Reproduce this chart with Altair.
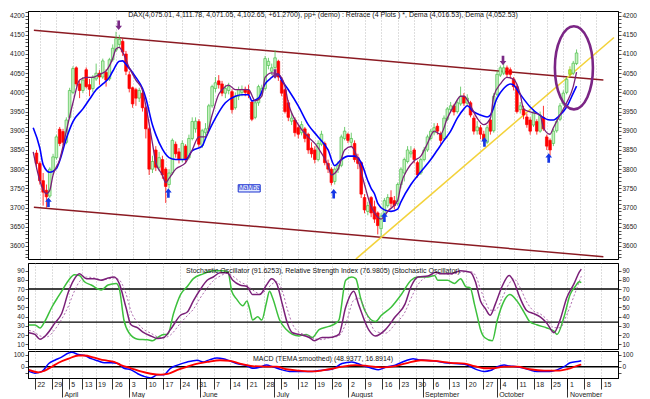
import altair as alt
import pandas as pd

# ---------------- DATA ----------------
# Daily candles, session 0 = Fri 19 Mar 2004 ... session 163 = Fri 5 Nov 2004 (trading days only)
opens = [
    3842,
    3815, 3770, 3745, 3730, 3795,
    3830, 3904, 3898, 3870, 3935,
    4000, 4064, 4022, 4005,
    4059, 4020, 4010, 4035,
    4050, 4040, 4052, 4035, 4085,
    4110, 4125, 4133, 4100, 4046,
    4012, 4007, 3985, 3998, 3960,
    3905, 3800, 3850, 3805, 3825,
    3800, 3760, 3790, 3865, 3845,
    3825, 3860, 3830, 3880, 3905,
    3924, 3862, 3895, 3905, 3965,
    4010, 4030, 4022, 3998, 4005,
    4002, 3960, 3990, 4000, 4008,
    4005, 3975, 3935, 3973, 4000,
    4010, 4070, 4055, 4065, 4081,
    4032, 4007, 3973, 3925, 3928,
    3908, 3895, 3905, 3891, 3855,
    3850, 3825, 3865, 3867, 3815,
    3800, 3768, 3800, 3810, 3880,
    3891, 3870, 3867, 3830, 3817,
    3726, 3690, 3726, 3702, 3686,
    3645, 3680, 3705, 3726, 3718,
    3710, 3760, 3790, 3820, 3840,
    3850, 3817, 3790, 3825, 3850,
    3880, 3895, 3912, 3891, 3880,
    3930, 3955, 3965, 3950, 3970,
    3990, 3972, 3973, 3933, 3900,
    3908, 3891, 3870, 3928, 3900,
    3995, 4045, 4050, 4064, 4059,
    4035, 4015, 3955, 3957, 3936,
    3928, 3915, 3924, 3899, 3935,
    3884, 3875, 3867, 3900, 3930,
    3970, 4000, 4047, 4050, 4075.01,
]
highs = [
    3850,
    3820, 3790, 3760, 3805, 3840,
    3890, 3910, 3905, 3935, 4012,
    4068, 4068, 4030, 4040,
    4065, 4035, 4045, 4075,
    4058, 4088, 4060, 4090, 4125,
    4158, 4150, 4140, 4108, 4055,
    4015, 4012, 4012, 4005, 3965,
    3910, 3835, 3860, 3845, 3835,
    3805, 3800, 3880, 3872, 3855,
    3875, 3865, 3890, 3935, 3935,
    3930, 3905, 3920, 3970, 4020,
    4040, 4045, 4030, 4020, 4025,
    4008, 4000, 4015, 4018, 4015,
    4020, 3980, 3980, 4020, 4020,
    4095, 4090, 4075, 4110, 4085,
    4040, 4010, 3980, 3950, 3935,
    3915, 3925, 3910, 3895, 3870,
    3860, 3875, 3900, 3872, 3825,
    3805, 3805, 3820, 3890, 3910,
    3895, 3895, 3875, 3840, 3820,
    3735, 3715, 3730, 3718, 3690,
    3685, 3725, 3735, 3745, 3730,
    3765, 3805, 3830, 3860, 3860,
    3855, 3822, 3830, 3858, 3890,
    3905, 3920, 3920, 3898, 3940,
    3962, 3975, 3970, 3980, 4015,
    3998, 3995, 3978, 3940, 3925,
    3915, 3900, 3915, 3935, 3998,
    4055, 4070, 4078, 4070, 4065,
    4040, 4020, 3975, 3965, 3945,
    3935, 3955, 3930, 3950, 3965,
    3890, 3880, 3905, 3935, 3972,
    4005, 4040, 4068, 4082, 4111.78,
]
lows = [
    3800,
    3760, 3705, 3700, 3725, 3785,
    3825, 3860, 3862, 3865, 3930,
    3995, 4015, 3985, 3998,
    4010, 3990, 4000, 4030,
    4020, 4035, 4015, 4030, 4080,
    4105, 4115, 4095, 4045, 4000,
    3960, 3965, 3975, 3950, 3880,
    3785, 3790, 3795, 3795, 3775,
    3712, 3750, 3785, 3830, 3815,
    3818, 3815, 3825, 3875, 3895,
    3858, 3855, 3880, 3900, 3960,
    4000, 4010, 3990, 3985, 3995,
    3945, 3955, 3980, 3990, 3990,
    3985, 3925, 3930, 3965, 3990,
    4005, 4060, 4045, 4060, 4030,
    3990, 3945, 3925, 3915, 3885,
    3880, 3888, 3870, 3840, 3830,
    3815, 3820, 3860, 3810, 3790,
    3758, 3760, 3790, 3805, 3875,
    3868, 3860, 3818, 3800, 3725,
    3685, 3680, 3675, 3660, 3630,
    3625, 3675, 3700, 3700, 3695,
    3705, 3750, 3768, 3815, 3830,
    3815, 3778, 3785, 3820, 3845,
    3875, 3888, 3890, 3865, 3875,
    3925, 3948, 3940, 3945, 3965,
    3965, 3965, 3935, 3890, 3890,
    3878, 3865, 3865, 3890, 3895,
    3990, 4040, 4045, 4040, 4035,
    4005, 3945, 3945, 3930, 3908,
    3890, 3910, 3890, 3895, 3900,
    3850, 3835, 3860, 3895, 3925,
    3965, 3995, 4040, 4045, 4071.05,
]
closes = [
    3815,
    3770, 3740, 3728, 3800, 3832,
    3884, 3867, 3870, 3928, 4005,
    4062, 4022, 4005, 4032,
    4015, 4008, 4040, 4050,
    4040, 4082, 4032, 4085, 4115,
    4140, 4138, 4105, 4055, 4010,
    3970, 3985, 4005, 3960, 3905,
    3800, 3820, 3805, 3830, 3785,
    3755, 3790, 3875, 3840, 3825,
    3867, 3825, 3880, 3924, 3925,
    3865, 3900, 3905, 3965, 4015,
    4025, 4020, 3998, 4010, 4015,
    3955, 3990, 4007, 4008, 4000,
    3995, 3930, 3973, 4015, 4010,
    4088, 4081, 4064, 4090, 4040,
    3998, 3950, 3935, 3933, 3895,
    3891, 3916, 3880, 3850, 3840,
    3825, 3867, 3891, 3817, 3800,
    3765, 3800, 3809, 3884, 3899,
    3875, 3880, 3825, 3815, 3735,
    3694, 3705, 3686, 3670, 3653,
    3678, 3718, 3726, 3711, 3705,
    3760, 3800, 3825, 3850, 3845,
    3825, 3785, 3825, 3850, 3884,
    3899, 3908, 3899, 3875, 3933,
    3957, 3965, 3949, 3973, 3990,
    3972, 3985, 3941, 3899, 3910,
    3891, 3875, 3908, 3899, 3990,
    4047, 4064, 4064, 4047, 4047,
    4015, 3950, 3965, 3941, 3916,
    3899, 3949, 3899, 3941, 3905,
    3860, 3850, 3899, 3924, 3965,
    3998, 4034, 4059, 4076, 4102.65,
]
highlight_sessions = [161]

# Dema lines (session, value)
dema_slow_session = [-1, 1, 2, 4, 6, 7, 9, 11, 14, 16, 18, 20, 22, 23, 25, 26, 27, 30, 32, 33,
                     35, 36, 38, 40, 42, 45, 47, 50, 51, 54, 57, 60, 62, 64, 65, 67, 69, 71, 72, 73,
                     74, 76, 79, 82, 85, 88, 90, 92, 94, 96, 98, 100, 101, 102, 103, 105, 107, 109, 110, 113,
                     116, 119, 121, 123, 125, 127, 129, 130, 132, 134, 136, 137, 139, 141, 143, 144, 146, 149, 152, 155,
                     156, 158, 160, 162, 163]
dema_slow_value = [3908, 3855, 3812, 3792, 3802, 3822, 3880, 3924, 3957, 3982, 4007, 4022, 4039, 4055, 4081, 4082, 4073, 4039, 4010, 3985,
                   3915, 3890, 3852, 3830, 3825, 3825, 3848, 3860, 3880, 3933, 3973, 3990, 3994, 3994, 3978, 3985, 4022, 4039, 4045, 4047,
                   4032, 4007, 3965, 3916, 3884, 3850, 3809, 3825, 3834, 3834, 3817, 3770, 3750, 3736, 3711, 3694, 3690, 3696, 3715, 3760,
                   3793, 3825, 3850, 3875, 3899, 3933, 3957, 3965, 3949, 3941, 3936, 3941, 3985, 4010, 4022, 4019, 3995, 3962, 3940, 3928,
                   3928, 3941, 3962, 3998, 4016.53]
dema_fast_session = [-1, 1, 3, 4, 5, 7, 9, 11, 13, 15, 17, 19, 21, 23, 24, 25, 26, 28, 30, 32,
                     33, 35, 36, 38, 39, 40, 42, 45, 47, 49, 51, 53, 55, 56, 58, 60, 63, 64, 66, 68,
                     69, 71, 73, 75, 76, 79, 82, 84, 86, 88, 89, 91, 93, 95, 97, 99, 101, 102, 104, 105,
                     106, 109, 110, 112, 114, 116, 118, 120, 122, 124, 126, 128, 129, 131, 133, 135, 137, 138, 140, 142,
                     144, 146, 147, 149, 152, 153, 155, 156, 158, 160, 162, 163]
dema_fast_value = [3845, 3770, 3736, 3745, 3785, 3825, 3899, 3973, 4032, 4039, 4039, 4047, 4056, 4088, 4113, 4117, 4105, 4064, 4032, 4005,
                   3965, 3867, 3817, 3785, 3765, 3776, 3800, 3817, 3850, 3884, 3884, 3941, 3995, 4007, 4019, 4007, 4007, 4007, 3978, 3990,
                   4039, 4051, 4047, 4015, 3973, 3916, 3884, 3867, 3842, 3809, 3785, 3800, 3850, 3859, 3825, 3760, 3702, 3686, 3670, 3678,
                   3690, 3718, 3760, 3800, 3822, 3834, 3867, 3899, 3891, 3933, 3965, 3990, 3990, 3965, 3933, 3916, 3933, 3990, 4022, 4039,
                   4034, 3995, 3957, 3949, 3941, 3908, 3891, 3908, 3941, 3973, 4015, 4052.53]

# Trend lines (session, value)
channel_top_session = [-0.8, 171.1]
channel_top_value = [4162, 4032]
channel_bottom_session = [-0.8, 171.1]
channel_bottom_value = [3701, 3572]
support_session = [96.4, 174.3]
support_value = [3566, 4143]

# Signal arrows, circled area, label
buy_session = [3.6, 39.8, 89.7, 105.0, 135.2, 154.6]
buy_value = [3714, 3738, 3736, 3675, 3871, 3829]
sell_session = [24.8, 72.0, 140.8]
sell_value = [4175, 4048, 4083]
circle_session = [162.2]
circle_value = [4064]
note_session = [64.2]
note_value = [3750]
note_text = ["MaMba"]

# Stochastic / RSI panel
rsi_session = [-0.8, 1.0, 2.5, 3.9, 6.0, 8.0, 9.5, 11.0, 12.7, 14.2,
               15.7, 17.7, 20.7, 22.7, 25.1, 26.0, 27.4, 28.9, 31.5, 34.5,
               35.9, 37.4, 39.2, 40.4, 42.1, 44.2, 46.2, 48.0, 50.9, 53.9,
               56.8, 58.3, 59.4, 60.9, 62.7, 63.9, 64.7, 65.6, 67.1, 68.3,
               69.7, 70.6, 71.5, 73.6, 75.6, 77.4, 79.4, 81.5, 83.3, 85.3,
               88.2, 90.3, 91.2, 93.2, 95.0, 96.2, 97.6, 99.1, 102.0, 103.8,
               106.7, 109.7, 112.6, 114.7, 117.6, 119.6, 120.5, 123.4, 125.5, 127.3,
               128.8, 130.2, 131.4, 132.3, 133.2, 134.4, 136.7, 138.2, 140.2, 141.9,
               144.0, 146.1, 147.8, 149.9, 152.9, 155.0, 155.9, 158.0, 159.8, 161.3,
               162.5, 163.1]
rsi_value = [31, 31, 27.7, 34.6, 50.2, 62.3, 71, 79.6, 85.5, 84.8,
             77.9, 74.4, 69, 74.4, 76.1, 71, 36.3, 22.5, 15.5, 14.8,
             13.8, 17.3, 20.7, 20.7, 43.2, 64, 72.7, 81.3, 86.5, 90,
             90, 88.3, 67.5, 58.8, 51.9, 57.1, 48.4, 36.3, 39.8, 36.3,
             55.4, 67.5, 60.6, 36.3, 25.9, 20.7, 19, 20.7, 17.3, 25.9,
             29.4, 32.9, 36.3, 79.6, 83.1, 81.3, 60.6, 45, 34.6, 41.5,
             50.2, 64, 79.6, 83.1, 83.1, 84.8, 79.6, 79.6, 76.1, 81.3,
             72.7, 71, 53.6, 39.8, 25.9, 17.3, 13.8, 36.3, 57.1, 64,
             57.1, 45, 34.6, 31.1, 27.7, 24.2, 20.7, 39.8, 64, 72.7,
             77.9, 77.0]
stoch_session = [-0.8, 1.0, 2.5, 4.5, 6.9, 8.9, 11.0, 12.5, 14.2, 16.3,
                 18.6, 20.7, 22.7, 24.5, 26.0, 28.0, 29.5, 31.5, 33.3, 35.4,
                 37.4, 39.2, 41.2, 44.2, 46.2, 48.0, 50.0, 52.1, 53.9, 55.9,
                 58.0, 59.7, 61.8, 63.9, 65.6, 67.7, 69.7, 71.2, 72.7, 74.4,
                 75.9, 77.4, 79.4, 82.4, 83.9, 86.2, 88.2, 90.3, 91.2, 93.2,
                 95.6, 97.0, 100.0, 102.0, 105.0, 107.9, 110.8, 112.6, 114.7, 117.6,
                 119.9, 121.4, 124.3, 127.3, 130.2, 131.7, 133.2, 134.7, 136.1, 137.6,
                 139.6, 141.7, 143.1, 144.9, 146.9, 149.0, 150.9, 152.9, 155.0, 156.8,
                 158.8, 161.0, 162.5, 163.1]
stoch_value = [22.5, 20.7, 15.5, 20.7, 32.9, 43.2, 67.5, 79.6, 86.5, 81.3,
               81.3, 79.6, 82, 83.1, 76.1, 50.2, 31.1, 27.7, 22.5, 19,
               16.2, 17.3, 25.9, 41.5, 45, 57.1, 69.2, 79.6, 83.1, 87.6,
               87.6, 79.6, 74.4, 72.7, 64, 64, 74.4, 81.3, 76.1, 53.6,
               32.9, 22.5, 20.7, 17.3, 13.8, 17.3, 17.3, 19, 20.7, 50.2,
               67.5, 53.6, 25.9, 19, 25.9, 39.8, 53.6, 72.7, 83.1, 84.1,
               88.3, 86.5, 86.5, 90, 88.3, 77.9, 57.1, 48.4, 41.5, 53.6,
               72.7, 84.8, 77.9, 60.6, 46.7, 43.2, 39.8, 32.9, 22.5, 36.3,
               60.6, 76.1, 88.3, 91.6]
stoch_signal_value = [25, 23, 19, 18, 26, 37, 52, 66, 78, 83,
                      82, 80, 81, 82, 80, 65, 46, 33, 26, 22,
                      18, 17, 20, 33, 41, 48, 60, 71, 79, 84,
                      87, 84, 78, 74, 69, 65, 69, 75, 78, 68,
                      48, 32, 23, 19, 16, 15, 17, 18, 19, 32,
                      58, 60, 38, 24, 22, 32, 45, 60, 75, 84,
                      86, 87, 86, 88, 89, 85, 70, 56, 47, 47,
                      60, 76, 81, 72, 56, 46, 43, 37, 28, 28,
                      42, 63, 78, 84]
stoch_levels = [70, 34]

# MACD panel
macd_session = [-0.8, 1.0, 3.1, 5.1, 6.9, 8.9, 11.0, 11.9, 13.9, 15.7,
                17.7, 19.8, 21.6, 23.6, 25.7, 27.4, 29.5, 31.5, 33.3, 35.4,
                37.4, 39.2, 41.2, 43.3, 46.2, 49.2, 50.9, 52.9, 55.0, 56.8,
                58.9, 60.9, 63.9, 65.6, 67.7, 69.7, 71.5, 74.4, 76.5, 79.4,
                82.4, 85.3, 89.1, 92.1, 95.0, 97.9, 100.9, 102.9, 105.0, 107.9,
                110.8, 113.2, 114.7, 116.7, 119.6, 122.5, 125.5, 128.5, 130.2, 132.3,
                134.4, 136.1, 138.2, 140.2, 141.9, 144.0, 146.1, 147.8, 149.9, 152.1,
                153.8, 155.9, 158.0, 159.8, 162.5, 163.1]
macd_value = [-39, -53, -39, 26, 53, 79, 113, 118, 100, 92,
              66, 47, 32, 32, 26, -13, -26, -58, -79, -92,
              -66, -66, -13, 13, 39, 53, 39, 58, 71, 66,
              47, 26, 8, -13, -5, 13, 0, -26, -39, -39,
              -39, -32, -21, 26, 39, 13, -13, -26, -5, 13,
              47, 66, 58, 53, 47, 32, 26, 21, 0, -26,
              -39, -32, 0, 13, 5, 0, -13, -26, -39, -39,
              -39, -26, 0, 32, 45, 48.94]
macd_signal_session = [-0.8, 2.2, 3.9, 6.0, 8.0, 11.0, 13.9, 15.7, 18.6, 21.6,
                       24.5, 26.5, 29.5, 32.4, 35.4, 38.3, 40.4, 43.3, 46.2, 49.2,
                       52.1, 55.9, 58.9, 61.8, 65.6, 69.7, 72.7, 75.6, 79.4, 83.3,
                       88.2, 92.1, 96.2, 100.0, 103.8, 107.9, 111.7, 115.5, 119.6, 124.3,
                       128.5, 131.4, 134.4, 137.3, 140.2, 144.0, 147.8, 152.1, 155.9, 159.8,
                       162.5, 163.1]
macd_signal_value = [-26, -47, -32, 0, 32, 66, 92, 92, 74, 53,
                     39, 13, -13, -39, -58, -66, -60, -26, 0, 26,
                     39, 53, 47, 26, 5, 0, 0, -21, -32, -39,
                     -21, 0, 13, 5, -5, 5, 32, 53, 47, 32,
                     26, 5, -13, -13, 0, 0, -21, -32, -32, -13,
                     13, 16.89]
macd_levels = [0]

# Date axis labels
week_start_session = [1, 6, 11, 15, 19, 24, 29, 34, 39, 44, 49, 54, 59, 64, 69, 74, 79, 84,
                      89, 94, 99, 104, 109, 114, 119, 124, 129, 134, 139, 144, 149, 154, 159, 164, 169]
week_labels = ["22", "29", "5", "13", "19", "26", "3", "10", "17", "24", "31", "7", "14", "21", "28",
               "5", "12", "19", "26", "2", "9", "16", "23", "30", "6", "13", "20", "27", "4", "11",
               "18", "25", "1", "8", "15"]
month_start_session = [9, 29, 50, 72, 94, 116, 138, 159]
month_labels = ["April", "May", "June", "July", "August", "September", "October", "November"]

title_main = ("DAX(4,075.01, 4,111.78, 4,071.05, 4,102.65, +61.2700), pp+ (demo) : Retrace (4 Plots ) *, "
              "Dema (4,016.53), Dema (4,052.53)")
title_sto = "Stochastic Oscillator (91.6253), Relative Strength Index (76.9805) (Stochastic Oscillator)"
title_macd = "MACD (TEMA smoothed) (48.9377, 16.8914)"

# ---------------- TABLES ----------------
candles = pd.DataFrame({"session": list(range(len(closes))), "open": opens, "high": highs,
                        "low": lows, "close": closes})
candles["dir"] = ["up" if c >= o else "down" for o, c in zip(opens, closes)]
candles.loc[candles["session"].isin(highlight_sessions), "dir"] = "mark"

def series(s, v):
    return pd.DataFrame({"session": s, "value": v})

trend = pd.concat([series(channel_top_session, channel_top_value).assign(line="top"),
                   series(channel_bottom_session, channel_bottom_value).assign(line="bottom")])
support = series(support_session, support_value)
slow = series(dema_slow_session, dema_slow_value)
fast = series(dema_fast_session, dema_fast_value)
buys = series(buy_session, buy_value)
sells = series(sell_session, sell_value)
circ = series(circle_session, circle_value)
note = series(note_session, note_value).assign(label=note_text)
rsi = series(rsi_session, rsi_value)
sto = series(stoch_session, stoch_value)
sig = series(stoch_session, stoch_signal_value)
macd = series(macd_session, macd_value)
macd_sig = series(macd_signal_session, macd_signal_value)

# ---------------- STYLE ----------------
FONT = "Liberation Sans"
W = 590
H_MAIN, H_STO, H_MACD = 248, 86, 27
xs = alt.Scale(domain=[-1.06, 174.0], nice=False, zero=False)
ys_main = alt.Scale(domain=[3566, 4212], nice=False, zero=False)
ys_sto = alt.Scale(domain=[4.8, 98.3], nice=False, zero=False)
ys_macd = alt.Scale(domain=[-93, 129], nice=False, zero=False)

GREEN_EDGE, GREEN_FILL, RED = "#4cc04c", "#c6f0c0", "#ff0000"
BLUE, PURPLE, MAROON, YELLOW = "#0000ff", "#7a1f78", "#8b1a22", "#f3d23a"

def grid_x():
    return alt.X("session:Q", scale=xs, title=None,
                 axis=alt.Axis(values=week_start_session, grid=True, gridDash=[1, 2],
                               gridColor="#a0a0a0", gridWidth=0.7, labels=False,
                               ticks=False, domain=False, title=None))

def y_axis(orient, values, expr):
    return alt.Axis(orient=orient, values=values, labelExpr=expr, tickSize=3, labelPadding=1,
                    labelOverlap=False, grid=False, title=None, labelFlush=False)

main_vals = list(range(3570, 4211, 10))
main_expr = "datum.value % 50 == 0 ? datum.value : ''"

def ptitle(text, off):
    return alt.TitleParams(text=text, anchor="middle", frame="group", orient="top", offset=off,
                           baseline="top", font=FONT, fontSize=7, fontWeight="normal", color="#111")

UP = "M0,-1L0.7,-0.1L0.28,-0.1L0.28,1L-0.28,1L-0.28,-0.1L-0.7,-0.1Z"
DOWN = "M0,1L0.7,0.1L0.28,0.1L0.28,-1L-0.28,-1L-0.28,0.1L-0.7,0.1Z"
ELLIPSE = ("M0,-1C0.253,-1 0.458,-0.552 0.458,0C0.458,0.552 0.253,1 0,1"
           "C-0.253,1 -0.458,0.552 -0.458,0C-0.458,-0.552 -0.253,-1 0,-1Z")
BOX = "M-1,-0.33L1,-0.33L1,0.33L-1,0.33Z"

dirs = ["up", "down", "mark"]

# ---------------- MAIN PANEL ----------------
wicks = alt.Chart(candles).mark_rule(strokeWidth=0.8).encode(
    x=grid_x(),
    y=alt.Y("low:Q", scale=ys_main, axis=y_axis("left", main_vals, main_expr)),
    y2="high:Q",
    color=alt.Color("dir:N", scale=alt.Scale(domain=dirs, range=[GREEN_EDGE, RED, "#8cc21a"]), legend=None),
)
bodies = alt.Chart(candles).mark_bar(size=2.6, strokeWidth=0.7).encode(
    x=grid_x(),
    y=alt.Y("open:Q", scale=ys_main, axis=y_axis("right", main_vals, main_expr)),
    y2="close:Q",
    fill=alt.Fill("dir:N", scale=alt.Scale(domain=dirs, range=[GREEN_FILL, RED, "#b6ea2c"]), legend=None),
    stroke=alt.Stroke("dir:N", scale=alt.Scale(domain=dirs, range=[GREEN_EDGE, RED, "#8cc21a"]), legend=None),
)
trend_l = alt.Chart(trend).mark_line(color=MAROON, strokeWidth=1.5, clip=True).encode(
    x=grid_x(), y=alt.Y("value:Q", scale=ys_main, axis=None), detail="line:N")
support_l = alt.Chart(support).mark_line(color=YELLOW, strokeWidth=1.6, clip=True).encode(
    x=grid_x(), y=alt.Y("value:Q", scale=ys_main, axis=None))
slow_l = alt.Chart(slow).mark_line(color=BLUE, strokeWidth=1.6, interpolate="monotone", clip=True).encode(
    x=grid_x(), y=alt.Y("value:Q", scale=ys_main, axis=None))
fast_l = alt.Chart(fast).mark_line(color=PURPLE, strokeWidth=1.3, interpolate="monotone", clip=True).encode(
    x=grid_x(), y=alt.Y("value:Q", scale=ys_main, axis=None))
buy_p = alt.Chart(buys).mark_point(shape=UP, size=90, filled=True, color="#1436e6", opacity=1,
                                   strokeWidth=0).encode(
    x=grid_x(), y=alt.Y("value:Q", scale=ys_main, axis=None))
sell_p = alt.Chart(sells).mark_point(shape=DOWN, size=90, filled=True, color="#7a2a86", opacity=1,
                                     strokeWidth=0).encode(
    x=grid_x(), y=alt.Y("value:Q", scale=ys_main, axis=None))
circ_p = alt.Chart(circ).mark_point(shape=ELLIPSE, size=6900, filled=False, color="#7b2585",
                                    strokeWidth=2.6, opacity=1).encode(
    x=grid_x(), y=alt.Y("value:Q", scale=ys_main, axis=None))
box_p = alt.Chart(note).mark_point(shape=BOX, size=484, filled=True, fill="#e4ecff", stroke="#1a30d0",
                                   strokeWidth=1, opacity=1).encode(
    x=grid_x(), y=alt.Y("value:Q", scale=ys_main, axis=None))
box_t = alt.Chart(note).mark_text(font=FONT, fontSize=6.5, color="#1a30d0").encode(
    x=grid_x(), y=alt.Y("value:Q", scale=ys_main, axis=None), text="label:N")

main = alt.layer(trend_l, support_l, wicks, bodies, slow_l, fast_l, buy_p, sell_p, circ_p, box_p, box_t
                 ).resolve_axis(y="independent").properties(width=W, height=H_MAIN,
                                                            title=ptitle(title_main, -9))

# ---------------- STOCHASTIC PANEL ----------------
sto_vals = list(range(10, 91, 10))
sto_expr = "datum.value"
lv = alt.Chart(pd.DataFrame({"level": stoch_levels})).mark_rule(color="black", strokeWidth=1.4).encode(
    y=alt.Y("level:Q", scale=ys_sto, axis=y_axis("left", sto_vals, sto_expr)))
rsi_l = alt.Chart(rsi).mark_line(color="#3cc03c", strokeWidth=1.5, interpolate="monotone", clip=True).encode(
    x=grid_x(), y=alt.Y("value:Q", scale=ys_sto, axis=y_axis("right", sto_vals, sto_expr)))
sig_l = alt.Chart(sig).mark_line(color="#9a4a9a", strokeWidth=0.8, strokeDash=[2, 2],
                                 interpolate="monotone", clip=True).encode(
    x=grid_x(), y=alt.Y("value:Q", scale=ys_sto, axis=None))
sto_l = alt.Chart(sto).mark_line(color=PURPLE, strokeWidth=1.5, interpolate="monotone", clip=True).encode(
    x=grid_x(), y=alt.Y("value:Q", scale=ys_sto, axis=None))
stoch_panel = alt.layer(lv, rsi_l, sig_l, sto_l).resolve_axis(y="independent").properties(
    width=W, height=H_STO, title=ptitle(title_sto, -11))

# ---------------- MACD PANEL ----------------
week_expr = ("[" + ",".join("'%s'" % s for s in week_labels) + "][indexof(["
             + ",".join(str(v) for v in week_start_session) + "], datum.value)]")
month_expr = ("[" + ",".join("'%s'" % s for s in month_labels) + "][indexof(["
              + ",".join(str(v) for v in month_start_session) + "], datum.value)]")
day_axis = alt.Axis(orient="bottom", values=week_start_session, labelExpr=week_expr, tickSize=11,
                    labelPadding=-9, labelAlign="left", labelOffset=2, labelFontSize=7,
                    labelOverlap=False, labelFlush=False, grid=True, gridDash=[1, 2],
                    gridColor="#a0a0a0", gridWidth=0.7, domain=True, title=None, tickColor="#000")
month_axis = alt.Axis(orient="bottom", values=month_start_session, labelExpr=month_expr, tickSize=19,
                      labelPadding=-7, labelAlign="left", labelOffset=2, labelFontSize=7,
                      labelOverlap=False, labelFlush=False, grid=False, domain=False, title=None,
                      tickColor="#000")
macd_vals = [-50, 0, 50, 100]
macd_expr = "datum.value == 100 || datum.value == 0 ? datum.value : ''"
zero = alt.Chart(pd.DataFrame({"level": macd_levels})).mark_rule(color="black", strokeWidth=1.4).encode(
    y=alt.Y("level:Q", scale=ys_macd, axis=None))
macd_l = alt.Chart(macd).mark_line(color=BLUE, strokeWidth=1.5, interpolate="monotone", clip=True).encode(
    x=alt.X("session:Q", scale=xs, axis=day_axis, title=None),
    y=alt.Y("value:Q", scale=ys_macd, axis=y_axis("left", macd_vals, macd_expr)))
macd_s = alt.Chart(macd_sig).mark_line(color=RED, strokeWidth=1.8, interpolate="monotone", clip=True).encode(
    x=alt.X("session:Q", scale=xs, axis=month_axis, title=None),
    y=alt.Y("value:Q", scale=ys_macd, axis=y_axis("right", macd_vals, macd_expr)))
macd_panel = alt.layer(zero, macd_l, macd_s).resolve_axis(x="independent", y="independent").properties(
    width=W, height=H_MACD, title=ptitle(title_macd, -11))

chart = alt.vconcat(main, stoch_panel, macd_panel, spacing=0, background="white",
                    padding={"left": 1, "top": 0, "right": 1, "bottom": 0}
                    ).configure_view(stroke="#000", strokeWidth=1).configure_axis(
    labelFont=FONT, labelFontSize=6.5, labelColor="#222", tickColor="#222", domainColor="#000",
    tickWidth=0.8)

chart.save("out.html", embed_options={"renderer": "svg", "actions": False})
